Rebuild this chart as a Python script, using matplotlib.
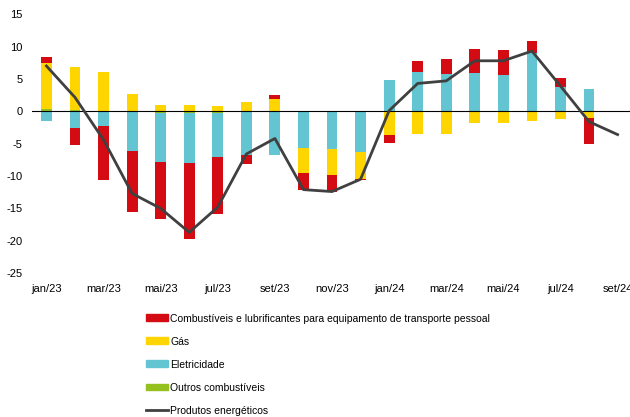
import numpy as np
from matplotlib import pyplot as plt
from matplotlib.patches import Patch
from matplotlib.lines import Line2D

plt.rcParams['font.family'] = ['Liberation Sans Narrow', 'Liberation Sans', 'DejaVu Sans']
plt.rcParams['axes.unicode_minus'] = False

meses = ['jan/23', 'fev/23', 'mar/23', 'abr/23', 'mai/23', 'jun/23', 'jul/23',
         'ago/23', 'set/23', 'out/23', 'nov/23', 'dez/23', 'jan/24', 'fev/24',
         'mar/24', 'abr/24', 'mai/24', 'jun/24', 'jul/24', 'ago/24', 'set/24']

outros = [0.3, 0.2, 0.1, -0.1, -0.2, -0.3, -0.2, -0.1, 0.0, 0.0, 0.0, -0.1,
          0.0, 0.0, 0.0, 0.1, 0.1, 0.1, 0.0, -0.1, np.nan]
eletricidade = [-1.5, -2.6, -2.3, -6.0, -7.6, -7.7, -6.9, -6.7, -6.7, -5.6, -5.9, -6.2,
                4.9, 6.05, 5.8, 5.75, 5.45, 8.9, 3.75, 3.45, np.nan]
gas = [7.2, 6.7, 5.9, 2.7, 1.0, 0.9, 0.8, 1.5, 1.85, -3.9, -4.0, -4.2,
       -3.6, -3.5, -3.45, -1.85, -1.75, -1.55, -1.2, -0.9, np.nan]
combustiveis = [0.9, -2.6, -8.3, -9.4, -8.8, -11.8, -8.8, -1.3, 0.65, -2.6, -2.6, -0.1,
                -1.3, 1.65, 2.3, 3.75, 3.85, 1.8, 1.45, -4.0, np.nan]
produtos = [7.0, 2.15, -4.4, -12.7, -15.0, -18.7, -14.8, -6.6, -4.2, -12.1, -12.4, -10.5,
            0.1, 4.3, 4.7, 7.8, 7.8, 9.3, 3.9, -1.6, -3.6]

cores = {'comb': '#d40b12', 'gas': '#ffd500', 'elet': '#63c5d1', 'outros': '#95c11f'}

fig = plt.figure(figsize=(6.3, 4.17), dpi=100)
ax = fig.add_axes([0.051, 0.345, 0.952, 0.621])

x = np.arange(len(meses))
pos = np.zeros(len(meses))
neg = np.zeros(len(meses))
# ordem de empilhamento a partir do zero
for serie, cor in [(outros, cores['outros']), (eletricidade, cores['elet']),
                   (gas, cores['gas']), (combustiveis, cores['comb'])]:
  v = np.nan_to_num(np.array(serie, dtype=float))
  base = np.where(v >= 0, pos, neg)
  ax.bar(x, v, 0.38, bottom=base, color=cor, linewidth=0)
  pos = pos + np.where(v >= 0, v, 0)
  neg = neg + np.where(v < 0, v, 0)

ax.plot(x, produtos, color='#404040', linewidth=2.0, zorder=5)
ax.axhline(0, color='black', linewidth=0.8, zorder=4)

ax.set_xlim(-0.5, 20.5)
ax.set_ylim(-25, 15)
ax.set_yticks(range(-25, 16, 5))
ax.set_xticks(x[::2])
ax.set_xticklabels(meses[::2])
ax.tick_params(length=0, labelsize=8, colors='black')
ax.tick_params(axis='x', pad=8)
ax.tick_params(axis='y', pad=7)
for s in ax.spines.values():
  s.set_visible(False)

handles = [Patch(color=cores['comb']), Patch(color=cores['gas']),
           Patch(color=cores['elet']), Patch(color=cores['outros']),
           Line2D([0], [0], color='#404040', linewidth=2.0)]
labels = ['Combustíveis e lubrificantes para equipamento de transporte pessoal',
          'Gás', 'Eletricidade', 'Outros combustíveis', 'Produtos energéticos']
fig.legend(handles, labels, loc='upper left', bbox_to_anchor=(0.231, 0.248),
           frameon=False, fontsize=7.5, handlelength=2.2, handleheight=0.65,
           handletextpad=0.15, labelspacing=1.25, borderpad=0, borderaxespad=0)

fig.savefig('out.png', dpi=100)
